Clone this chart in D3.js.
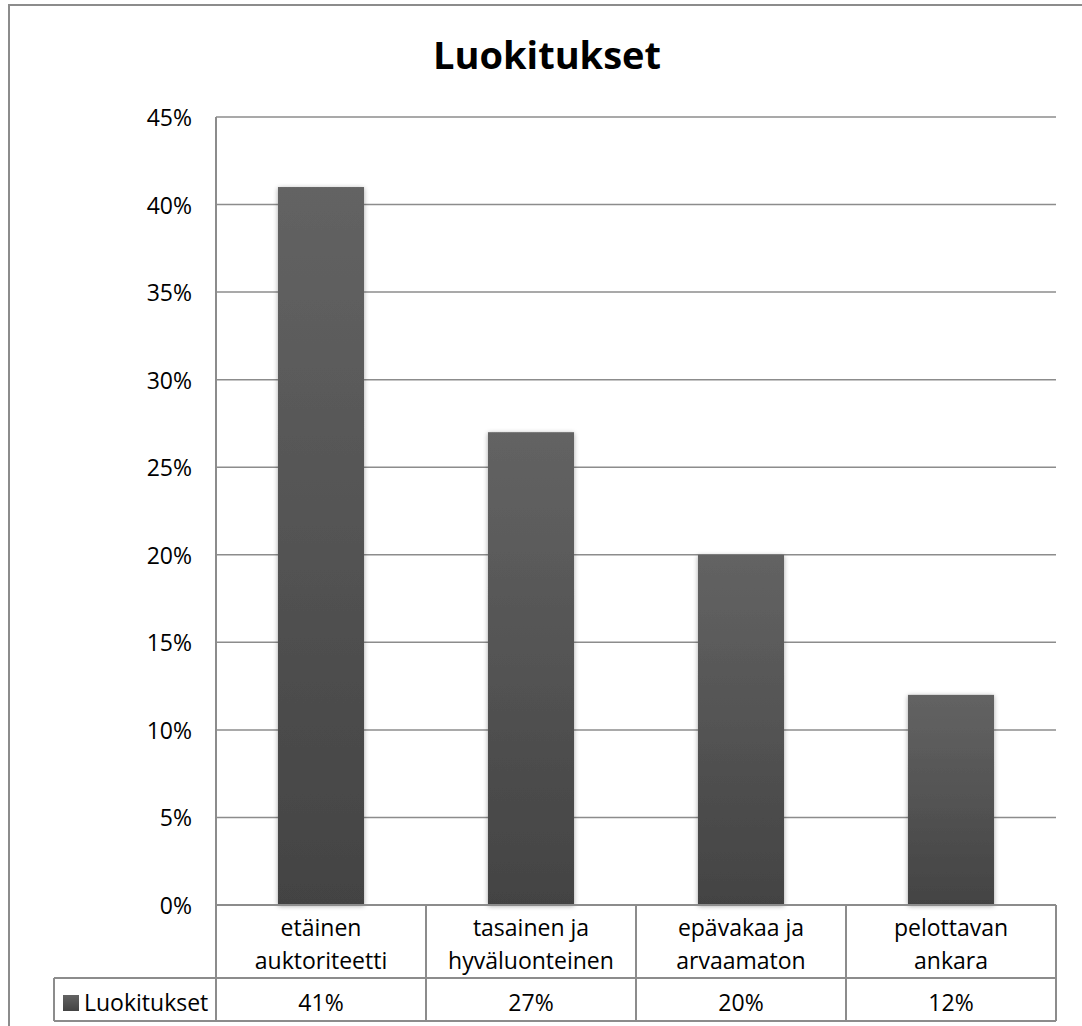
<!DOCTYPE html>
<html><head><meta charset="utf-8">
<script src="https://cdn.jsdelivr.net/npm/d3@7"></script>
<style>body{margin:0;background:#fff;} svg{display:block;font-family:"Open Sans",Lato,sans-serif;}</style>
</head><body>
<svg id="c" width="1082" height="1026"></svg>
<script>
const title = "Luokitukset";
const seriesName = "Luokitukset";
const categories = [["etäinen","auktoriteetti"],["tasainen ja","hyväluonteinen"],["epävakaa ja","arvaamaton"],["pelottavan","ankara"]];
const values = [0.41, 0.27, 0.20, 0.12];
const yTicks = [0,0.05,0.10,0.15,0.20,0.25,0.30,0.35,0.40,0.45];

const svg = d3.select("#c");
const L = 216, R = 1056, T = 117, B = 905;
const row1B = 978, row2B = 1021, legL = 54;
const grid = "#8c8c8c";
const FS = 23;

// outer chart border
svg.append("rect").attr("x",9).attr("y",5).attr("width",1100).attr("height",1100)
  .attr("fill","#fff").attr("stroke","#8c8c8c").attr("stroke-width",2);

const defs = svg.append("defs");
const g = defs.append("linearGradient").attr("id","bg").attr("x1",0).attr("x2",0).attr("y1",0).attr("y2",1);
g.append("stop").attr("offset","0%").attr("stop-color","#636363");
g.append("stop").attr("offset","100%").attr("stop-color","#434343");
const f = defs.append("filter").attr("id","sh").attr("x","-20%").attr("y","-5%").attr("width","140%").attr("height","110%");
f.append("feGaussianBlur").attr("in","SourceAlpha").attr("stdDeviation",2.5).attr("result","b");
f.append("feOffset").attr("in","b").attr("dx",0).attr("dy",1).attr("result","o");
f.append("feComponentTransfer").attr("in","o").attr("result","o2").append("feFuncA").attr("type","linear").attr("slope",0.35);
const fm = f.append("feMerge"); fm.append("feMergeNode").attr("in","o2"); fm.append("feMergeNode").attr("in","SourceGraphic");

const x = d3.scaleBand().domain(d3.range(categories.length)).range([L,R]).paddingInner(0.59).paddingOuter(0.295);
const y = d3.scaleLinear().domain([0,0.45]).range([B,T]);

// title
svg.append("text").attr("x",547).attr("y",69).attr("text-anchor","middle")
  .attr("font-size",38).attr("font-weight","bold").attr("fill","#000").text(title);

// gridlines
svg.append("g").selectAll("line").data(yTicks).join("line")
  .attr("x1",L).attr("x2",R).attr("y1",d=>y(d)).attr("y2",d=>y(d))
  .attr("stroke",grid).attr("stroke-width",1.5);

// y axis
const yAxis = d3.axisLeft(y).tickValues(yTicks).tickFormat(d3.format(".0%")).tickSize(0).tickPadding(24);
const ya = svg.append("g").attr("transform",`translate(${L},0)`).call(yAxis);
ya.select(".domain").remove();
ya.selectAll("text").attr("font-size",FS).attr("fill","#000").attr("dy","0.37em")
  .attr("font-family","'Open Sans',Lato,sans-serif");
svg.append("line").attr("x1",L).attr("x2",L).attr("y1",T).attr("y2",row2B).attr("stroke",grid).attr("stroke-width",2);

// bars
svg.append("g").selectAll("rect").data(values).join("rect")
  .attr("x",(d,i)=>x(i)).attr("width",x.bandwidth())
  .attr("y",d=>y(d)).attr("height",d=>B-y(d))
  .attr("fill","url(#bg)").attr("filter","url(#sh)");

// data table
const tb = svg.append("g").attr("stroke",grid).attr("stroke-width",2).attr("fill","none");
tb.append("line").attr("x1",L).attr("x2",R).attr("y1",B).attr("y2",B);
tb.append("line").attr("x1",legL).attr("x2",R).attr("y1",row1B).attr("y2",row1B);
tb.append("line").attr("x1",legL).attr("x2",R).attr("y1",row2B).attr("y2",row2B);
tb.append("line").attr("x1",legL).attr("x2",legL).attr("y1",row1B).attr("y2",row2B);
const step = (R-L)/categories.length;
const bounds = d3.range(categories.length+1).map(i=>L+i*step);
tb.selectAll("line.v").data(bounds.slice(1)).join("line").attr("class","v")
  .attr("x1",d=>d).attr("x2",d=>d).attr("y1",B).attr("y2",row2B);

const ct = svg.append("g").attr("font-size",FS).attr("fill","#000").attr("text-anchor","middle");
categories.forEach((c,i)=>{
  const cx = L + step*(i+0.5);
  c.forEach((ln,j)=>{
    ct.append("text").attr("x",cx).attr("y",936+j*33).text(ln);
  });
  ct.append("text").attr("x",cx).attr("y",1011).text(d3.format(".0%")(values[i]));
});
// legend key
svg.append("rect").attr("x",63).attr("y",995).attr("width",16).attr("height",16).attr("fill","url(#bg)");
svg.append("text").attr("x",84).attr("y",1011).attr("font-size",FS).attr("fill","#000").text(seriesName);
</script>
</body></html>
